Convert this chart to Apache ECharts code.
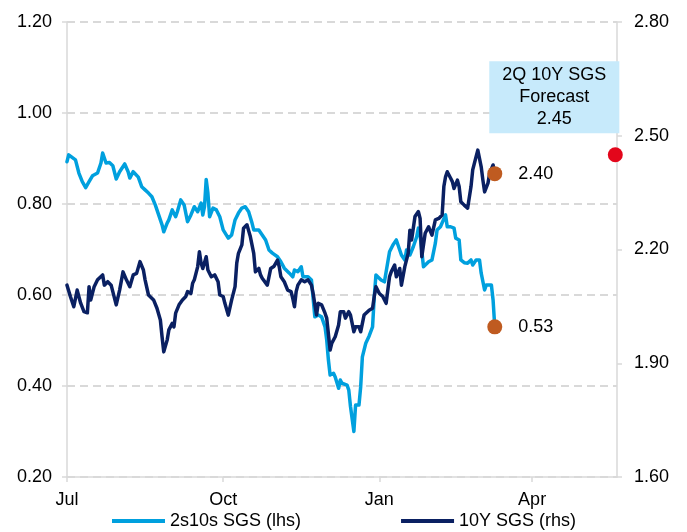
<!DOCTYPE html>
<html>
<head>
<meta charset="utf-8">
<script src="https://cdn.jsdelivr.net/npm/echarts@6/dist/echarts.min.js"></script>
<style>
	html, body { margin: 0; padding: 0; background: #fff; }
	#chart { width: 687px; height: 532px; }
</style>
</head>
<body>
<div id="chart"></div>
<script>
/** ---------------- 数据 (days since 1 Jul) ---------------- */
var tickDays = [0, 92, 184, 274];
var tickLabels = ['Jul', 'Oct', 'Jan', 'Apr'];

var spreadDays = [0, 1, 5, 7, 9, 11, 13, 14, 15, 18, 20, 21, 23, 25, 27, 29, 31, 34, 36, 37, 39, 42, 44, 46, 48, 50,
	52, 54, 56, 57, 59, 60, 62, 64, 65, 67, 69, 71, 73, 75, 77, 79, 80, 81, 82, 83, 84, 86, 88, 90, 92, 95, 97, 99,
	101, 103, 105, 107, 109, 110, 113, 115, 117, 119, 121, 124, 126, 128, 131, 133, 134, 136, 138, 139, 142, 144,
	146, 148, 150, 152, 153, 154, 155, 157, 158, 160, 161, 162, 165, 166, 167, 169, 170, 172, 173, 174, 176, 178,
	180, 181, 182, 183, 185, 187, 188, 190, 192, 194, 196, 197, 199, 200, 202, 204, 206, 207, 208, 210, 211, 213,
	215, 217, 218, 220, 223, 224, 226, 228, 229, 231, 232, 234, 236, 238, 239, 241, 243, 244, 246, 247, 250, 251, 252];
var spreadValues = [0.893, 0.908, 0.897, 0.868, 0.849, 0.836, 0.849, 0.846, 0.862, 0.868, 0.890, 0.912, 0.890, 0.891,
	0.884, 0.855, 0.871, 0.888, 0.871, 0.857, 0.871, 0.859, 0.838, 0.831, 0.824, 0.816,
	0.798, 0.776, 0.754, 0.739, 0.758, 0.765, 0.787, 0.772, 0.783, 0.809, 0.798, 0.761, 0.776, 0.794, 0.783, 0.802,
	0.776, 0.794, 0.854, 0.824, 0.772, 0.791, 0.787, 0.772, 0.743, 0.725, 0.732, 0.765,
	0.780, 0.791, 0.794, 0.783, 0.758, 0.743, 0.743, 0.732, 0.721, 0.699, 0.692, 0.684, 0.673, 0.659, 0.648, 0.640,
	0.655, 0.651, 0.662, 0.640, 0.640, 0.633,
	0.552, 0.556, 0.552, 0.530, 0.501, 0.457, 0.424, 0.428, 0.420, 0.395, 0.413, 0.406, 0.402, 0.391, 0.355, 0.300,
	0.358, 0.358, 0.398, 0.464, 0.494, 0.510,
	0.530, 0.596, 0.644, 0.648, 0.633, 0.629, 0.633, 0.695, 0.710, 0.721, 0.699, 0.688, 0.677, 0.699, 0.688, 0.706,
	0.728, 0.747, 0.732, 0.662, 0.666, 0.673,
	0.677, 0.714, 0.743, 0.750, 0.776, 0.750, 0.750, 0.747, 0.725, 0.721, 0.677, 0.671, 0.670, 0.677, 0.666, 0.677,
	0.677, 0.648, 0.611, 0.622, 0.622, 0.589, 0.53];

var yieldDays = [0, 2, 4, 6, 8, 10, 12, 13, 14, 16, 18, 21, 22, 24, 26, 29, 31, 33, 35, 37, 39, 41, 43, 45, 46, 48,
	49, 51, 53, 55, 56, 57, 59, 60, 62, 63, 64, 66, 68, 70, 71, 73, 74, 75, 77, 78, 79, 80, 82, 83, 85, 87, 89, 90,
	92, 93, 95, 97, 99, 100, 101, 103, 104, 106, 107, 108, 110, 111, 113, 114, 115, 118, 120, 122, 124, 125, 126,
	128, 130, 132, 133, 134, 135, 136, 138, 140, 142, 144, 145, 147, 148, 150, 152, 153, 155, 156, 158, 160, 161,
	163, 164, 166, 167, 169, 170, 172, 173, 175, 176, 178, 180, 181, 182, 184, 186, 188, 190, 191, 193, 194, 196,
	197, 199, 201, 202, 203, 205, 207, 208, 209, 211, 213, 215, 217, 219, 221, 222, 223, 224, 226, 227, 228, 230,
	231, 232, 234, 236, 238, 239, 241, 242, 244, 245, 246, 248, 249, 251, 252];
var yieldValues = [2.106, 2.076, 2.049, 2.093, 2.059, 2.036, 2.033, 2.102, 2.067, 2.102, 2.120, 2.133, 2.106, 2.115,
	2.106, 2.054, 2.093, 2.141, 2.120, 2.102, 2.133, 2.137, 2.168, 2.146, 2.120, 2.080,
	2.076, 2.067, 2.045, 2.014, 1.970, 1.930, 1.961, 1.988, 2.005, 1.996, 2.032, 2.054, 2.067, 2.076, 2.089, 2.084,
	2.111, 2.120, 2.155, 2.194, 2.164, 2.150, 2.181, 2.146, 2.128, 2.133, 2.115, 2.080,
	2.076, 2.058, 2.027, 2.067, 2.102, 2.164, 2.190, 2.212, 2.256, 2.265, 2.269, 2.234, 2.190, 2.141, 2.150, 2.133,
	2.124, 2.106, 2.150, 2.156, 2.172, 2.155, 2.128,
	2.115, 2.093, 2.089, 2.071, 2.049, 2.089, 2.106, 2.120, 2.115, 2.120, 2.106, 2.084, 2.027, 2.058, 2.054, 2.032,
	2.019, 1.935, 1.953, 1.970, 2.001, 2.036,
	2.036, 2.019, 2.036, 2.027, 1.983, 1.996, 1.996, 1.983, 2.027, 2.023, 2.040, 2.045, 2.076, 2.102, 2.084, 2.076,
	2.058, 2.128, 2.141, 2.159, 2.128, 2.150,
	2.106, 2.155, 2.190, 2.251, 2.225, 2.287, 2.300, 2.282, 2.181, 2.243, 2.260, 2.238, 2.278, 2.282, 2.291, 2.366,
	2.392, 2.405, 2.388, 2.379, 2.361, 2.383,
	2.366, 2.326, 2.317, 2.309, 2.366, 2.410, 2.445, 2.462, 2.418, 2.383, 2.352, 2.375, 2.401, 2.423, 2.40];

var lastDay = 252;
var lastSpread = 0.53;
var lastYield = 2.40;
var forecastDay = 323;
var forecastYield = 2.45;

/** ---------------- 样式 ---------------- */
var FONT = 'Liberation Sans, Arial, sans-serif';
var LIGHT = '#00A0DE';
var DARK = '#0A2062';
var ORANGE = '#BF5B20';
var RED = '#E3061B';
var AXIS_GREY = '#d9d9d9';

function pairs(xs, ys) {
	var out = [];
	for (var i = 0; i < xs.length; i++) {
		out.push([xs[i], ys[i]]);
	}
	return out;
}

// 末端数值标签
function endLabel() {
	return {
		show: true,
		position: 'right',
		distance: 16,
		fontSize: 18,
		color: '#000',
		opacity: 1,
		fontFamily: FONT,
		formatter: function (p) { return p.value[1].toFixed(2); }
	};
}

var chart = echarts.init(document.getElementById('chart'), null, { renderer: 'canvas' });

var option = {
	animation: false,
	backgroundColor: '#fff',
	textStyle: { fontFamily: FONT },
	grid: { left: 67, right: 70, top: 22, bottom: 55, containLabel: false },
	legend: {
		left: 112,
		top: 512,
		padding: 0,
		itemGap: 100,
		itemWidth: 53,
		itemHeight: 4,
		icon: 'rect',
		textStyle: { fontSize: 18, color: '#000', fontFamily: FONT },
		data: ['2s10s SGS (lhs)', '10Y SGS (rhs)']
	},
	xAxis: {
		type: 'value',
		min: 0,
		max: 324,
		axisLine: { show: true, lineStyle: { color: AXIS_GREY, width: 1.5 } },
		axisTick: { show: true, length: 5, customValues: tickDays, lineStyle: { color: AXIS_GREY, width: 1.5 } },
		axisLabel: {
			customValues: tickDays,
			margin: 14,
			fontSize: 18,
			color: '#000',
			fontFamily: FONT,
			formatter: function (v) {
				var idx = tickDays.indexOf(v);
				return idx >= 0 ? tickLabels[idx] : '';
			}
		},
		splitLine: { show: false }
	},
	yAxis: [{
		type: 'value',
		min: 0.2,
		max: 1.2,
		interval: 0.2,
		position: 'left',
		axisLine: { show: true, lineStyle: { color: AXIS_GREY, width: 1.5 } },
		axisTick: { show: true, length: 5, lineStyle: { color: AXIS_GREY, width: 1.5 } },
		axisLabel: {
			margin: 15,
			fontSize: 18,
			color: '#000',
			fontFamily: FONT,
			formatter: function (v) { return v.toFixed(2); }
		},
		splitLine: { show: true, lineStyle: { color: AXIS_GREY, width: 2, type: [8, 5] } }
	}, {
		type: 'value',
		min: 1.6,
		max: 2.8,
		interval: 0.3,
		position: 'right',
		axisLine: { show: true, lineStyle: { color: AXIS_GREY, width: 1.5 } },
		axisTick: { show: true, length: 5, lineStyle: { color: AXIS_GREY, width: 1.5 } },
		axisLabel: {
			margin: 17,
			fontSize: 18,
			color: '#000',
			fontFamily: FONT,
			formatter: function (v) { return v.toFixed(2); }
		},
		splitLine: { show: false }
	}],
	series: [{
		name: '2s10s SGS (lhs)',
		type: 'line',
		yAxisIndex: 0,
		data: pairs(spreadDays, spreadValues),
		showSymbol: false,
		symbol: 'none',
		color: LIGHT,
		lineStyle: { color: LIGHT, width: 3.5, cap: 'round', join: 'round' },
		z: 3
	}, {
		name: '10Y SGS (rhs)',
		type: 'line',
		yAxisIndex: 1,
		data: pairs(yieldDays, yieldValues),
		showSymbol: false,
		symbol: 'none',
		color: DARK,
		lineStyle: { color: DARK, width: 3.5, cap: 'round', join: 'round' },
		z: 4
	}, {
		name: 'last spread',
		type: 'scatter',
		yAxisIndex: 0,
		data: [[lastDay, lastSpread]],
		symbolSize: 15,
		itemStyle: { color: ORANGE, opacity: 1 },
		label: endLabel(),
		z: 5
	}, {
		name: 'last yield',
		type: 'scatter',
		yAxisIndex: 1,
		data: [[lastDay, lastYield]],
		symbolSize: 15,
		itemStyle: { color: ORANGE, opacity: 1 },
		label: endLabel(),
		z: 5
	}, {
		name: 'forecast',
		type: 'scatter',
		yAxisIndex: 1,
		clip: false,
		data: [[forecastDay, forecastYield]],
		symbolSize: 15,
		itemStyle: { color: RED, opacity: 1 },
		label: {
			show: true,
			position: 'top',
			distance: 14,
			offset: [-61, 0],
			backgroundColor: '#C7EAFB',
			padding: [3, 13, 3, 13],
			lineHeight: 22,
			align: 'center',
			fontSize: 18,
			color: '#000',
			opacity: 1,
			fontFamily: FONT,
			formatter: function (p) { return '2Q 10Y SGS\nForecast\n' + p.value[1].toFixed(2); }
		},
		z: 5
	}]
};

chart.setOption(option);
</script>
</body>
</html>
